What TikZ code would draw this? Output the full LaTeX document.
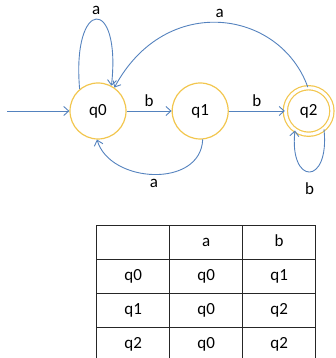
\documentclass[tikz,border=0pt]{standalone}
\usepackage{fontspec}
\setmainfont{Carlito}
\usetikzlibrary{arrows.meta,positioning,matrix}
\definecolor{stategold}{RGB}{242,198,78}
\definecolor{edgeblue}{RGB}{84,130,190}
\begin{document}
\begin{tikzpicture}[
  x=1pt, y=1pt, font=\fontsize{17}{20}\selectfont, >={Straight Barb[length=5pt,width=9pt]},
  state/.style={circle, draw=stategold, line width=1.2pt, minimum size=56pt, inner sep=0pt},
  accepting/.style={state, minimum size=46.5pt, double, double distance=3pt},
  edge/.style={->, draw=edgeblue, line width=0.9pt},
  lbl/.style={inner sep=4pt},
  cell/.style={draw=black!85, line width=0.8pt, minimum width=73pt, minimum height=34pt,
    text height=12pt, text depth=4pt, inner sep=0pt}
]
\useasboundingbox (0,0) rectangle (335,358);
\node[state] (q0) at (98,247) {q0};
\node[state, right=45pt of q0] (q1) {q1};
\node[accepting, right=56pt of q1] (q2) {q2};
\coordinate (start) at (7,247);
\draw[edge] (start) -- (q0);
\draw[edge] (q0) -- node[lbl, above] {b} (q1);
\draw[edge] (q1) -- node[lbl, above] {b} (q2);
\draw[edge] (q0.130) .. controls +(-8,92) and +(10,90) .. node[lbl, above=0pt] {a} (q0.62);
\draw[edge] (q2.92) .. controls +(-28,78) and +(51,95) .. node[lbl, above=0pt] {a} (q0.55);
\draw[edge] (q1.-85) .. controls +(-2,-49) and +(13,-44) .. node[lbl, below] {a} (q0.-92);
\draw[edge] (q2.-50) .. controls +(6,-57) and +(-6,-55) .. node[lbl, below=6pt] {b} (q2.-125);
% transition table
\matrix (tab) [matrix of nodes, nodes in empty cells, nodes={cell}, inner sep=0pt,
  column sep=-0.8pt, row sep=-0.8pt, anchor=north west] at (96,133) {
     & a  & b  \\
  q0 & q0 & q1 \\
  q1 & q0 & q2 \\
  q2 & q0 & q2 \\
};
\end{tikzpicture}
\end{document}
